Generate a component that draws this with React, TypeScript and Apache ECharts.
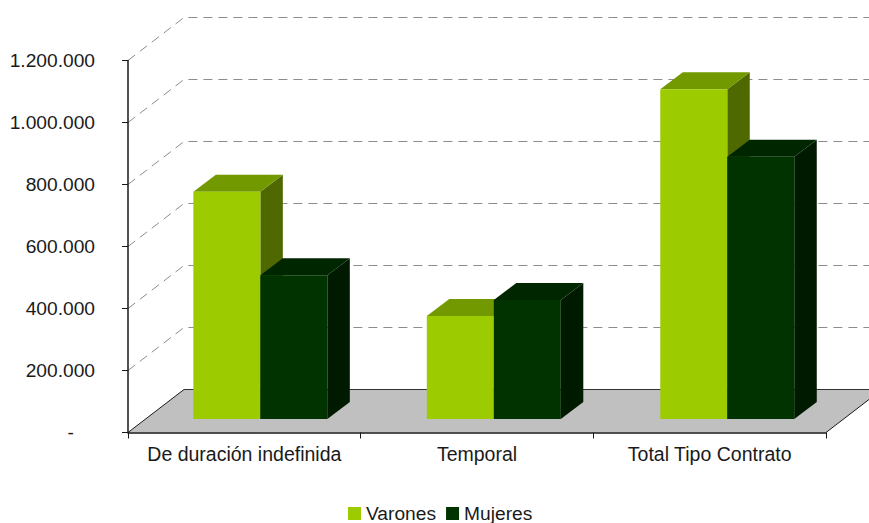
import React, { useEffect, useRef } from "react";
import * as echarts from "echarts";

const categories = ["De duración indefinida", "Temporal", "Total Tipo Contrato"];
const varones = [733000, 332000, 1064000];
const mujeres = [464000, 384000, 846000];
const valueTicks = [200000, 400000, 600000, 800000, 1000000, 1200000];
const seriesNames = ["Varones", "Mujeres"];

const FONT = '"Liberation Sans", Arial, sans-serif';
const WALL_DX = 56;
const WALL_DY = -43;
const BAR_DX = 16.8;
const BAR_SPREAD = 0.8;
const BAR_DY = -13.5;
const BAR_W = 67;
const DEPTH_DX = 22.5;
const DEPTH_DY = -17;

const fmt = (v: number) => String(v).replace(/\B(?=(\d{3})+$)/g, ".");

function barRenderer(side: number, front: string, top: string, right: string) {
  return (_p: any, api: any) => {
    const idx = api.value(0);
    const base = api.coord([idx, 0]);
    const head = api.coord([idx, api.value(1)]);
    const x0 = base[0] + BAR_DX + (idx - 1) * BAR_SPREAD + (side < 0 ? -BAR_W : 0);
    const x1 = x0 + BAR_W;
    const yb = base[1] + BAR_DY;
    const yt = head[1] + BAR_DY;
    return {
      type: "group",
      children: [
        { type: "polygon", shape: { points: [[x1, yt], [x1 + DEPTH_DX, yt + DEPTH_DY], [x1 + DEPTH_DX, yb + DEPTH_DY], [x1, yb]] }, style: { fill: right } },
        { type: "polygon", shape: { points: [[x0, yt], [x0 + DEPTH_DX, yt + DEPTH_DY], [x1 + DEPTH_DX, yt + DEPTH_DY], [x1, yt]] }, style: { fill: top } },
        { type: "rect", shape: { x: x0, y: yt, width: BAR_W, height: yb - yt }, style: { fill: front } },
      ],
    };
  };
}

export default function App() {
  const ref = useRef<HTMLDivElement>(null);
  useEffect(() => {
    const chart = echarts.init(ref.current!, undefined, { renderer: "svg" });
    chart.setOption({
      animation: false,
      backgroundColor: "#ffffff",
      textStyle: { fontFamily: FONT },
      grid: { left: 128, top: 60.5, width: 698, height: 372 },
      legend: {
        data: seriesNames,
        left: 343,
        top: 499,
        itemWidth: 13,
        itemHeight: 13,
        itemGap: 10,
        icon: "rect",
        textStyle: { fontFamily: FONT, fontSize: 19.2, color: "#1a1a1a", padding: [0, 0, 6, 0] },
      },
      xAxis: {
        type: "category",
        data: categories,
        z: 5,
        axisLine: { lineStyle: { color: "#1a1a1a", width: 1.5 } },
        axisTick: { show: true, length: 6, interval: 0, alignWithLabel: false, lineStyle: { color: "#1a1a1a" } },
        axisLabel: { interval: 0, fontFamily: FONT, fontSize: 19.5, color: "#1a1a1a", margin: 11 },
      },
      yAxis: {
        type: "value",
        min: 0,
        max: 1200000,
        interval: 200000,
        z: 5,
        splitLine: { show: false },
        axisLine: { show: true, lineStyle: { color: "#1a1a1a", width: 1.5 } },
        axisTick: { show: true, length: 6, lineStyle: { color: "#1a1a1a" } },
        axisLabel: {
          margin: 33,
          fontFamily: FONT,
          fontSize: 19.2,
          color: "#1a1a1a",
          formatter: (v: number) => (v === 0 ? "{z|-}" : fmt(v)),
          rich: { z: { fontFamily: FONT, fontSize: 19.2, color: "#1a1a1a", padding: [0, 21, 0, 0] } },
        },
      },
      series: [
        {
          type: "custom",
          name: "wall",
          z: 1,
          silent: true,
          data: [[0, 0]],
          renderItem: (params: any, api: any) => {
            const cs = params.coordSys;
            const l = cs.x;
            const r = cs.x + cs.width;
            const b = cs.y + cs.height;
            const children: any[] = [
              {
                type: "polygon",
                shape: { points: [[l, b], [l + WALL_DX, b + WALL_DY], [r + WALL_DX, b + WALL_DY], [r, b]] },
                style: { fill: "#c0c0c0" },
              },
              { type: "line", shape: { x1: l, y1: b, x2: l + WALL_DX, y2: b + WALL_DY }, style: { stroke: "#1a1a1a", lineWidth: 1 } },
              { type: "line", shape: { x1: l + WALL_DX, y1: b + WALL_DY, x2: r + WALL_DX, y2: b + WALL_DY }, style: { stroke: "#333333", lineWidth: 1 } },
              { type: "line", shape: { x1: r, y1: b, x2: r + WALL_DX, y2: b + WALL_DY }, style: { stroke: "#1a1a1a", lineWidth: 1 } },
            ];
            valueTicks.forEach((v) => {
              const y = api.coord([0, v])[1];
              children.push({
                type: "polyline",
                shape: { points: [[l, y], [l + WALL_DX, y + WALL_DY], [r + WALL_DX, y + WALL_DY]] },
                style: { stroke: "#8c8c8c", lineWidth: 1, lineDash: [9, 6], fill: "none" },
              });
            });
            return { type: "group", children };
          },
        },
        {
          type: "custom",
          name: seriesNames[0],
          z: 2,
          itemStyle: { color: "#9ccc00" },
          data: varones.map((v, i) => [i, v]),
          renderItem: barRenderer(-1, "#9ccc00", "#739900", "#4f6900"),
        },
        {
          type: "custom",
          name: seriesNames[1],
          z: 3,
          itemStyle: { color: "#003300" },
          data: mujeres.map((v, i) => [i, v]),
          renderItem: barRenderer(1, "#003300", "#002600", "#001a00"),
        },
      ],
    });
    return () => chart.dispose();
  }, []);
  return <div ref={ref} style={{ position: "absolute", left: 0, top: 0, width: 869, height: 523 }} />;
}
